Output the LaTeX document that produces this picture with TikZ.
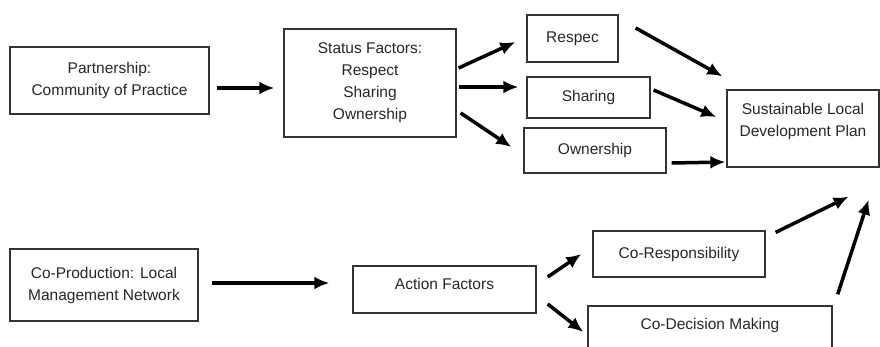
\documentclass[tikz,border=0pt]{standalone}
\usepackage{fontspec}
\setmainfont{Liberation Sans}
\usetikzlibrary{arrows.meta, calc, positioning}

\tikzset{
  box/.style={draw=black!80, line width=1.3pt, inner sep=0pt, align=center,
    font=\fontsize{15.5}{22}\selectfont, text=black!85},
  arr/.style={->, line width=3.5pt},
}

\begin{document}
\begin{tikzpicture}[x=1pt, y=-1pt, >={Latex[length=15pt, width=13pt]}]
    % Rahmen
    \useasboundingbox (0,0) rectangle (880,346);

    % Kästen oben
    \node[box, minimum width=199, minimum height=67] (part) at (109.5,80.5) {Partnership:\\Community of Practice};
    \node[box, minimum width=172, minimum height=108] (status) at (370,83) {Status Factors:\\Respect\\Sharing\\Ownership};
    \node[box, minimum width=91, minimum height=47] (respec) at (572.5,38.5) {Respec};
    \node[box, minimum width=123, minimum height=41] (sharing) at (588.5,97.5) {Sharing};
    \node[box, minimum width=142, minimum height=45] (owner) at (595,150.5) {Ownership};
    \node[box, minimum width=152, minimum height=77, text depth=18pt] (sust) at (803,128.5) {Sustainable Local\\Development Plan};

    % Kästen unten
    \node[box, minimum width=188, minimum height=72] (coprod) at (104,285) {Co-Production: Local\\Management Network};
    \node[box, minimum width=183, minimum height=47, text depth=11pt] (action) at (444.5,289.5) {Action Factors};
    \node[box, minimum width=172, minimum height=46] (coresp) at (679,254) {Co-Responsibility};
    \node[box, minimum width=244, minimum height=44, text depth=9pt] (codec) at (710,328) {Co-Decision Making};

    % Pfeile
    \draw[arr] ([xshift=7,yshift=-7.5]part.east) -- ([xshift=-9,yshift=-5]status.west);
    \draw[arr] ([xshift=2,yshift=15]status.east) -- ([xshift=-11,yshift=-3.5]respec.west);
    \draw[arr] ([xshift=2,yshift=-4]status.east) -- ([xshift=-8,yshift=10.5]sharing.west);
    \draw[arr] ([xshift=4,yshift=-30]status.east) -- ([xshift=-12,yshift=3.5]owner.west);
    \draw[arr] ([xshift=17,yshift=10.5]respec.east) -- ([xshift=-4,yshift=13]sust.north west);
    \draw[arr] ([xshift=3,yshift=7.5]sharing.east) -- ([xshift=-10,yshift=11.5]sust.west);
    \draw[arr] ([xshift=5,yshift=-12.5]owner.east) -- ([xshift=-1,yshift=-33.5]sust.west);

    \draw[arr] ([xshift=13,yshift=2]coprod.east) -- ([xshift=-23,yshift=6.5]action.west);
    \draw[arr] ([xshift=11,yshift=12.5]action.east) -- ([xshift=-11]coresp.west);
    \draw[arr] ([xshift=11,yshift=-14.5]action.east) -- ([xshift=-4,yshift=-4]codec.west);
    \draw[arr] ([xshift=10,yshift=-2]coresp.north east) -- ([xshift=-31,yshift=-29]sust.south east);
    \draw[arr] ([xshift=5,yshift=11]codec.north east) -- ([xshift=-11,yshift=-32]sust.south east);
\end{tikzpicture}
\end{document}
